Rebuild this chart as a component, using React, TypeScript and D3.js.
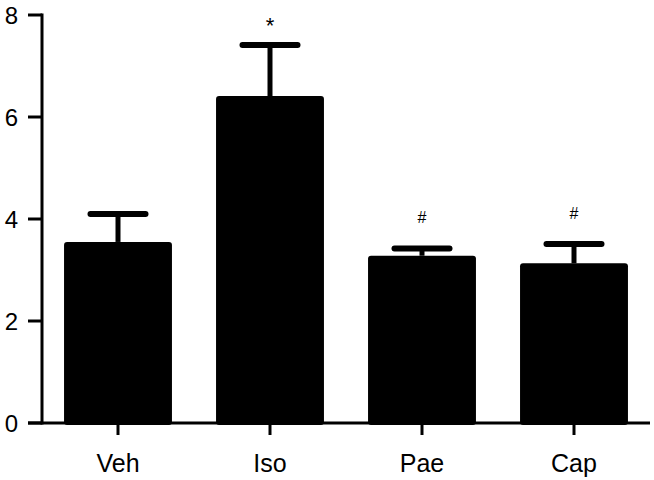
import React from "react";
import * as d3 from "d3";

const categories = ["Veh", "Iso", "Pae", "Cap"];
const means = [3.55, 6.41, 3.28, 3.13];
const errors = [0.55, 1.0, 0.14, 0.38];
const marks = ["", "*", "#", "#"];
const yTicks = [0, 2, 4, 6, 8];

export default function App() {
  const W = 654, H = 480;
  const x = d3.scaleBand<string>().domain(categories).range([42, 650]).paddingInner(0.29).paddingOuter(0.145);
  const y = d3.scaleLinear().domain([0, 8]).range([423, 15]);
  const font = "'Liberation Sans', Arial, Helvetica, sans-serif";
  const capW = 55;
  return (
    <svg width={W} height={H} style={{ position: "absolute", left: 0, top: 0, background: "#fff" }}>
      {categories.map((c, i) => {
        const cx = (x(c) as number) + x.bandwidth() / 2;
        const top = y(means[i]);
        const eTop = y(means[i] + errors[i]);
        const isStar = marks[i] === "*";
        return (
          <g key={c}>
            <line x1={cx} x2={cx} y1={top} y2={eTop} stroke="#000" strokeWidth={5} />
            <line x1={cx - capW / 2} x2={cx + capW / 2} y1={eTop} y2={eTop} stroke="#000" strokeWidth={6} strokeLinecap="round" />
            <rect x={x(c) as number} y={top} width={x.bandwidth()} height={y(0) - top + 2} rx={3} fill="#000" />
            {marks[i] && (
              <text x={cx} y={isStar ? eTop - 12 : eTop - 31} dy={isStar ? "0" : "0.36em"} textAnchor="middle" fontFamily={font} fontSize={isStar ? 22 : 16} fill="#000">
                {marks[i]}
              </text>
            )}
          </g>
        );
      })}
      {/* y axis */}
      <line x1={42} x2={42} y1={y(8) - 1.5} y2={y(0) + 1.5} stroke="#000" strokeWidth={3} />
      {yTicks.map((t) => (
        <g key={t}>
          <line x1={28} x2={42} y1={y(t)} y2={y(t)} stroke="#000" strokeWidth={3} />
          <text x={18} y={y(t)} dy="0.36em" textAnchor="end" fontFamily={font} fontSize={24} fill="#000">
            {t}
          </text>
        </g>
      ))}
      {/* x axis */}
      <line x1={28} x2={650} y1={y(0)} y2={y(0)} stroke="#000" strokeWidth={3} />
      {categories.map((c) => {
        const cx = (x(c) as number) + x.bandwidth() / 2;
        return (
          <g key={c}>
            <line x1={cx} x2={cx} y1={y(0)} y2={y(0) + 12} stroke="#000" strokeWidth={3} />
            <text x={cx} y={472} textAnchor="middle" fontFamily={font} fontSize={25} fill="#000">
              {c}
            </text>
          </g>
        );
      })}
    </svg>
  );
}
